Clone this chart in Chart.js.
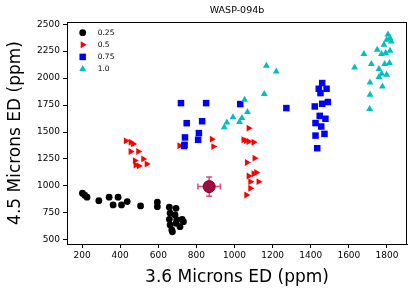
<!DOCTYPE html>
<html>
<head>
<meta charset="utf-8">
<script src="https://cdn.jsdelivr.net/npm/chart.js@4.4.1/dist/chart.umd.min.js"></script>
<style>
  html, body { margin: 0; padding: 0; background: #fff; }
</style>
</head>
<body>
<canvas id="myChart" width="416" height="292"></canvas>
<script>
const seriesLabels = ['0.25', '0.5', '0.75', '1.0'];

const blackX = [202, 214, 226, 288, 342, 389, 363, 407, 437, 507, 595, 595, 658, 693, 662, 688, 658, 697, 725, 732, 662, 693, 714, 671, 674];
const blackY = [933, 914, 896, 864, 896, 896, 824, 824, 855, 815, 849, 808, 803, 793, 747, 731, 691, 685, 691, 669, 638, 654, 623, 592, 575];

const redX = [430, 455, 468, 455, 495, 477, 521, 498, 539, 481, 711, 881, 889, 1074, 1047, 1060, 1074, 1100, 1065, 1105, 1100, 1114, 1074, 1126, 1083, 1083, 1062];
const redY = [1418, 1405, 1390, 1319, 1319, 1235, 1251, 1186, 1204, 1195, 1372, 1434, 1365, 1536, 1428, 1420, 1412, 1406, 1217, 1258, 1114, 1124, 1093, 1040, 1040, 979, 917];

const blueX = [719, 851, 1030, 749, 830, 740, 813, 809, 738, 735, 1272, 1460, 1483, 1442, 1451, 1490, 1460, 1421, 1447, 1477, 1425, 1455, 1425, 1472, 1434];
const blueY = [1768, 1768, 1759, 1582, 1600, 1450, 1490, 1428, 1381, 1370, 1722, 1954, 1901, 1901, 1861, 1778, 1762, 1737, 1650, 1623, 1583, 1551, 1467, 1483, 1350];

const cyanX = [1167, 1219, 1156, 1053, 1068, 1039, 992, 1026, 960, 946, 1805, 1816, 1799, 1823, 1784, 1749, 1816, 1771, 1793, 1679, 1718, 1788, 1813, 1630, 1758, 1772, 1798, 1758, 1711, 1776, 1711, 1709];
const cyanY = [2115, 2062, 1852, 1799, 1685, 1629, 1638, 1592, 1588, 1545, 2403, 2372, 2356, 2340, 2310, 2263, 2254, 2223, 2233, 2223, 2130, 2130, 2140, 2099, 2084, 2040, 2031, 2010, 1960, 1922, 1845, 1713];

// measured point with its error bars
const obsX = [867];
const obsY = [994];
const obsErrX = [59];
const obsErrY = [90];

const xTicks = [200, 400, 600, 800, 1000, 1200, 1400, 1600, 1800];
const yTicks = [500, 750, 1000, 1250, 1500, 1750, 2000, 2250, 2500];

const toPoints = (xs, ys) => xs.map((x, i) => ({ x: x, y: ys[i] }));

const styles = [
  { color: '#000000', pointStyle: 'circle', radius: 3.4, rotation: 0 },
  { color: '#ff0000', pointStyle: 'triangle', radius: 4, rotation: 90 },
  { color: '#0000ff', pointStyle: 'rect', radius: 4.6, rotation: 0 },
  { color: '#00bfbf', pointStyle: 'triangle', radius: 4, rotation: 0 },
];

const seriesData = [
  toPoints(blackX, blackY),
  toPoints(redX, redY),
  toPoints(blueX, blueY),
  toPoints(cyanX, cyanY),
];

const datasets = seriesData.map((data, i) => ({
  label: seriesLabels[i],
  data: data,
  backgroundColor: styles[i].color,
  borderColor: styles[i].color,
  borderWidth: 0,
  pointStyle: styles[i].pointStyle,
  pointRadius: styles[i].radius,
  pointRotation: styles[i].rotation,
  pointHoverRadius: styles[i].radius,
  order: 4 - i,
}));

datasets.push({
  label: 'obs',
  data: toPoints(obsX, obsY),
  backgroundColor: '#a50a3f',
  borderColor: '#6e0026',
  borderWidth: 1,
  pointStyle: 'circle',
  pointRadius: 6,
  order: 0,
});

const extras = {
  id: 'extras',
  beforeDatasetDraw(chart, args) {
    if (args.index !== 4) return;
    const ctx = chart.ctx;
    const xs = chart.scales.x, ys = chart.scales.y;
    ctx.save();
    ctx.strokeStyle = '#dc4a7c';
    ctx.lineWidth = 1.5;
    obsX.forEach((vx, i) => {
      const px = xs.getPixelForValue(vx);
      const py = ys.getPixelForValue(obsY[i]);
      const x0 = xs.getPixelForValue(vx - obsErrX[i]);
      const x1 = xs.getPixelForValue(vx + obsErrX[i]);
      const y0 = ys.getPixelForValue(obsY[i] - obsErrY[i]);
      const y1 = ys.getPixelForValue(obsY[i] + obsErrY[i]);
      const cap = 3;
      ctx.beginPath();
      ctx.moveTo(x0, py); ctx.lineTo(x1, py);
      ctx.moveTo(px, y0); ctx.lineTo(px, y1);
      ctx.moveTo(x0, py - cap); ctx.lineTo(x0, py + cap);
      ctx.moveTo(x1, py - cap); ctx.lineTo(x1, py + cap);
      ctx.moveTo(px - cap, y0); ctx.lineTo(px + cap, y0);
      ctx.moveTo(px - cap, y1); ctx.lineTo(px + cap, y1);
      ctx.stroke();
    });
    ctx.restore();
  },
  afterDraw(chart) {
    const ctx = chart.ctx;
    const a = chart.chartArea;
    ctx.save();
    // frame
    ctx.strokeStyle = '#000';
    ctx.lineWidth = 1;
    ctx.strokeRect(Math.round(a.left) + 0.5, Math.round(a.top) + 0.5,
      Math.round(a.right - a.left) - 1, Math.round(a.bottom - a.top));
    // title
    ctx.fillStyle = '#000';
    ctx.font = '9.5px "DejaVu Sans"';
    ctx.textAlign = 'center';
    ctx.textBaseline = 'middle';
    ctx.fillText('WASP-094b', (a.left + a.right) / 2, 11);
    // legend
    ctx.font = '7.5px "DejaVu Sans"';
    ctx.textAlign = 'left';
    styles.forEach((s, i) => {
      const y = a.top + 10.7 + i * 12.1;
      ctx.fillStyle = s.color;
      ctx.strokeStyle = s.color;
      Chart.helpers.drawPoint(ctx, {
        pointStyle: s.pointStyle, radius: s.radius, rotation: s.rotation, borderWidth: 0,
      }, a.left + 15.7, y);
      ctx.fillStyle = '#000';
      ctx.fillText(seriesLabels[i], a.left + 30.7, y);
    });
    ctx.restore();
  },
};

new Chart(document.getElementById('myChart').getContext('2d'), {
  type: 'scatter',
  data: { datasets: datasets },
  options: {
    responsive: false,
    animation: false,
    layout: { padding: { top: 22, right: 9, left: 0, bottom: 0 } },
    plugins: {
      legend: { display: false },
      tooltip: { enabled: false },
    },
    scales: {
      x: {
        type: 'linear',
        min: 121,
        max: 1905,
        afterBuildTicks: (axis) => { axis.ticks = xTicks.map(v => ({ value: v })); },
        afterFit: (scale) => { scale.height = 48; },
        grid: { drawOnChartArea: false, drawTicks: true, tickLength: 4, tickColor: '#000', color: '#000' },
        border: { display: true, color: '#000' },
        ticks: { color: '#000', font: { family: 'DejaVu Sans', size: 9 }, padding: 2, maxRotation: 0,
          callback: (v) => String(v) },
        title: { display: true, text: '3.6 Microns ED (ppm)', color: '#000',
          font: { family: 'DejaVu Sans', size: 17 }, padding: { top: 0, bottom: 4 } },
      },
      y: {
        type: 'linear',
        min: 462,
        max: 2520,
        afterBuildTicks: (axis) => { axis.ticks = yTicks.map(v => ({ value: v })); },
        afterFit: (scale) => { scale.width = 67; },
        grid: { drawOnChartArea: false, drawTicks: true, tickLength: 4, tickColor: '#000', color: '#000' },
        border: { display: true, color: '#000' },
        ticks: { color: '#000', font: { family: 'DejaVu Sans', size: 9 }, padding: 3,
          callback: (v) => String(v) },
        title: { display: true, text: '4.5 Microns ED (ppm)', color: '#000',
          font: { family: 'DejaVu Sans', size: 17 }, padding: { top: 5, bottom: 0 } },
      },
    },
  },
  plugins: [extras],
});
</script>
</body>
</html>
